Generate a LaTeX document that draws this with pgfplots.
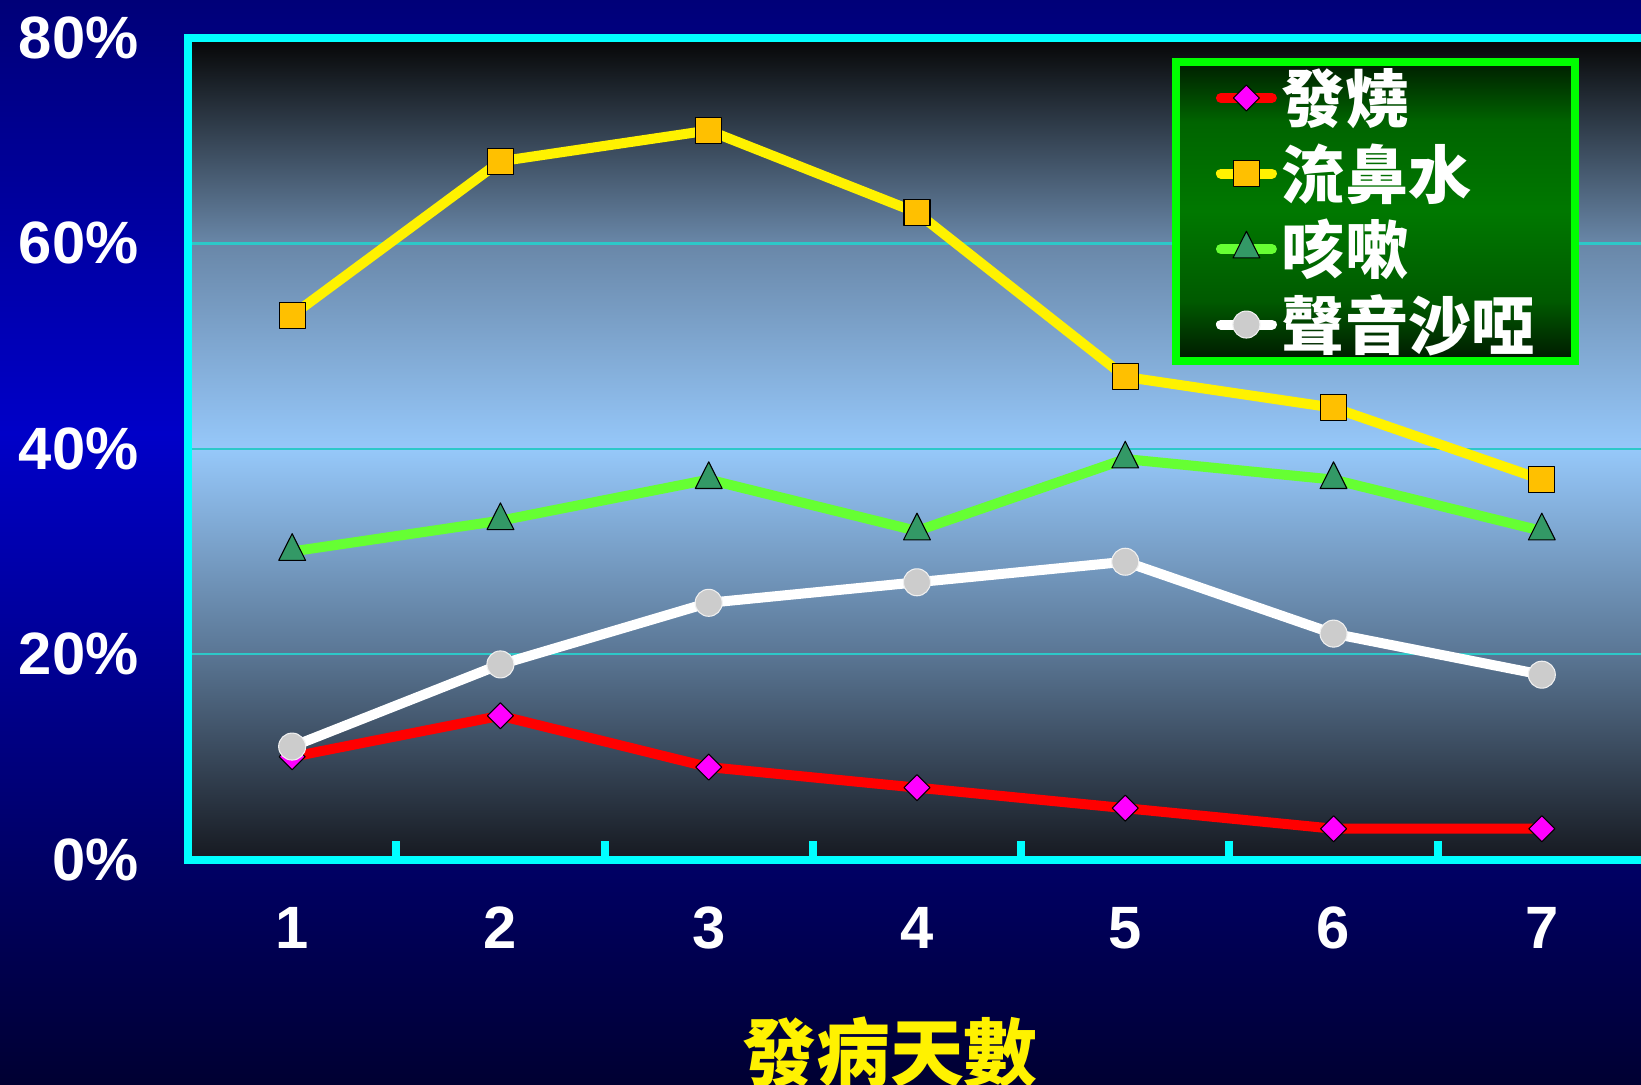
\documentclass[border=0pt]{standalone}
\usepackage{pgfplots}
\pgfplotsset{compat=1.18}
\usepackage{fontspec}
\setmainfont{Liberation Sans}
\newfontfamily\cjk{Noto Sans CJK TC}

\definecolor{cyanb}{RGB}{0,255,255}
\definecolor{gridc}{RGB}{45,200,200}
\definecolor{legg}{RGB}{0,255,0}
\definecolor{sqfill}{RGB}{255,192,0}
\definecolor{trifill}{RGB}{51,153,102}
\definecolor{gline}{RGB}{102,255,51}
\definecolor{circfill}{RGB}{204,204,204}
\definecolor{magf}{RGB}{255,0,255}

\definecolor{bgbot}{RGB}{0,0,50}
\definecolor{bgmid}{RGB}{0,0,200}
\definecolor{bgtop}{RGB}{0,0,120}
\pgfdeclareverticalshading{bgshade}{100bp}{color(0bp)=(bgbot); color(25bp)=(bgbot); color(55bp)=(bgmid); color(75bp)=(bgtop); color(100bp)=(bgtop)}

\definecolor{pbot}{RGB}{22,25,32}
\definecolor{pq1}{RGB}{90,118,148}
\definecolor{pmid}{RGB}{150,200,250}
\definecolor{pq3}{RGB}{105,135,168}
\definecolor{ptop}{RGB}{5,5,5}
\pgfdeclareverticalshading{plotshade}{100bp}{color(0bp)=(pbot); color(25bp)=(pbot); color(37.5bp)=(pq1); color(50bp)=(pmid); color(62.5bp)=(pq3); color(75bp)=(ptop); color(100bp)=(ptop)}

\definecolor{lbot}{RGB}{0,25,0}
\definecolor{lq1}{RGB}{0,90,0}
\definecolor{lmid}{RGB}{0,120,0}
\definecolor{lq3}{RGB}{0,100,0}
\definecolor{ltop}{RGB}{0,30,0}
\pgfdeclareverticalshading{legshade}{100bp}{color(0bp)=(lbot); color(25bp)=(lbot); color(35bp)=(lq1); color(50bp)=(lmid); color(65bp)=(lq3); color(75bp)=(ltop); color(100bp)=(ltop)}

\begin{document}
\begin{tikzpicture}
\path[use as bounding box] (0mm,0mm) rectangle (164.1mm,-108.4mm);
\shade[shading=bgshade] (0mm,0mm) rectangle (164.1mm,-108.4mm);
\begin{axis}[
  at={(18.8mm,-85.95mm)}, anchor=south west,
  scale only axis, width=145.8mm, height=82.15mm,
  xmin=0.5, xmax=7.5, ymin=0, ymax=80,
  axis background/.style={shade, shading=plotshade},
  axis line style={draw=cyanb, line width=0.8mm},
  xtick={1,2,3,4,5,6,7}, xticklabels={1,2,3,4,5,6,7},
  minor xtick={1.5,2.5,3.5,4.5,5.5,6.5},
  ytick={0,20,40,60,80}, yticklabels={0\%,20\%,40\%,60\%,80\%},
  tick align=inside, xtick pos=left, ytick pos=left,
  major x tick style={draw=none},
  minor x tick style={draw=cyanb, line width=0.8mm},
  minor tick length=1.9mm,
  ytick style={draw=none},
  ymajorgrids=true,
  y grid style={draw=gridc, line width=0.25mm},
  xticklabel style={font=\fontsize{17}{17}\selectfont\bfseries, text=white, yshift=-3.5mm},
  yticklabel style={font=\fontsize{17}{17}\selectfont\bfseries, text=white, xshift=-3.7mm},
  xlabel={發病天數},
  xlabel style={font=\cjk\bfseries\fontsize{21}{21}\selectfont, text=yellow, at={(axis description cs:0.4815,0)}, anchor=center, yshift=-19.25mm},
  legend image code/.code={\draw[mark repeat=2,mark phase=2,line cap=round,#1] plot coordinates {(0mm,0mm) (2.55mm,0mm) (5.1mm,0mm)};},
  legend cell align=left,
  legend style={at={(rel axis cs:0.6776,0.9708)}, anchor=north west, outer sep=0pt,
    draw=legg, line width=0.8mm, shade, shading=legshade,
    inner xsep=4.0mm, inner ysep=0mm, row sep=0.35mm,
    nodes={inner sep=0pt, outer sep=0pt, minimum height=7.2mm, font=\cjk\bfseries\fontsize{18}{18}\selectfont, text=white},
    /tikz/every odd column/.append style={column sep=0.5mm}},
]
\addplot[draw=red, line width=1mm, line join=round, mark=square*, mark size=0.92mm,
  mark options={rotate=45, fill=magf, draw=black, line width=0.3pt}]
  coordinates {(1,10) (2,14) (3,9) (4,7) (5,5) (6,3) (7,3)};
\addlegendentry{發燒}
\addplot[draw=yellow, line width=1mm, line join=round, mark=square*, mark size=1.3mm,
  mark options={fill=sqfill, draw=black, line width=0.3pt}]
  coordinates {(1,53) (2,68) (3,71) (4,63) (5,47) (6,44) (7,37)};
\addlegendentry{流鼻水}
\addplot[draw=gline, line width=1mm, line join=round, mark=triangle*, mark size=1.78mm,
  mark options={xscale=0.87, fill=trifill, draw=black, line width=0.3pt}]
  coordinates {(1,30) (2,33) (3,37) (4,32) (5,39) (6,37) (7,32)};
\addlegendentry{咳嗽}
\addplot[draw=white, line width=1mm, line join=round, mark=*, mark size=1.35mm,
  mark options={fill=circfill, draw=white!88!gray, line width=0.3pt}]
  coordinates {(1,11) (2,19) (3,25) (4,27) (5,29) (6,22) (7,18)};
\addlegendentry{聲音沙啞}
\end{axis}
\end{tikzpicture}
\end{document}
